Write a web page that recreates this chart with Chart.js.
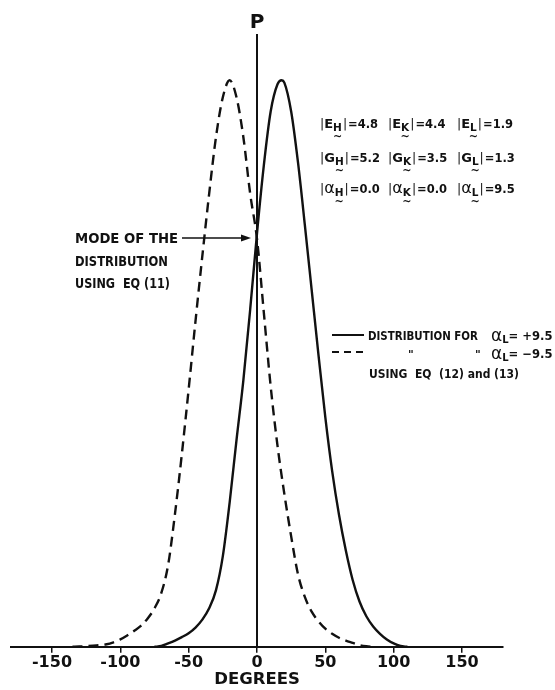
<!DOCTYPE html>
<html lang="en">
  <head>
    <meta charset="UTF-8" />
    <title>Distribution P vs degrees</title>
    <script src="https://cdn.jsdelivr.net/npm/chart.js"></script>
    <style>
      html, body { margin: 0; padding: 0; background: #fff; }
      #wrap { width: 555px; height: 690px; position: relative; }
    </style>
  </head>
  <body>
    <div id="wrap"><canvas id="distChart"></canvas></div>

    <script>
// data (P scaled so the peak = 100)
var solidDeg = [-75, -70, -65, -60, -55, -50, -45, -40, -35, -30, -25, -20, -15, -10, -5, 0, 5, 10, 15, 18, 20, 25, 30, 35, 40, 45, 50, 55, 60, 65, 70, 75, 80, 85, 90, 95, 100, 105, 110];
var solidP   = [0, 0.15, 0.6, 1.1, 1.7, 2.4, 3.4, 4.8, 6.8, 10, 16, 25.5, 36.5, 47, 59.5, 73, 85, 94.5, 99.3, 100, 99.6, 94.5, 85.5, 74.5, 63, 51.5, 40.5, 31, 23.3, 17, 11.8, 8, 5.4, 3.6, 2.3, 1.3, 0.6, 0.15, 0];

var dashDeg = [-135, -130, -120, -110, -105, -100, -95, -90, -85, -80, -75, -70, -65, -60, -55, -50, -45, -40, -35, -30, -25, -20, -15, -10, -5, 0, 5, 10, 15, 20, 25, 30, 35, 40, 45, 50, 55, 60, 65, 70, 75, 80, 85];
var dashP   = [0, 0.05, 0.2, 0.45, 0.8, 1.3, 2.0, 2.8, 3.7, 5.0, 6.8, 9.5, 14.5, 23.5, 34, 45.5, 57.5, 69, 80, 90, 97, 100, 97, 90, 80, 72, 59, 46, 35.5, 27, 19.5, 12.8, 8.8, 6.2, 4.5, 3.2, 2.3, 1.6, 1.1, 0.7, 0.3, 0.1, 0];

var xTicks = [-150, -100, -50, 0, 50, 100, 150];

function pairs(xs, ys) {
  return xs.map(function (x, i) { return { x: x, y: ys[i] }; });
}

var FONT = "'DejaVu Sans', sans-serif";

// texts drawn on top of the chart
var labelPlugin = {
  id: 'labels',
  afterDraw: function (chart) {
    var ctx = chart.ctx;
    var xs = chart.scales.x;
    var x0 = xs.getPixelForValue(0);
    ctx.save();
    ctx.fillStyle = '#111';
    ctx.strokeStyle = '#111';
    ctx.textBaseline = 'alphabetic';

    function txt(s, x, y, size, w, maxW) {
      ctx.font = (w || 'bold') + ' ' + size + 'px ' + FONT;
      if (maxW) ctx.fillText(s, x, y, maxW); else ctx.fillText(s, x, y);
      return x + Math.min(ctx.measureText(s).width, maxW || 1e9);
    }

    // P above axis
    ctx.textAlign = 'center';
    txt('P', x0, 28, 20);
    ctx.textAlign = 'left';

    // |X_s| = v with a tilde under the subscript
    function param(x, y, sym, sub, val) {
      var cx = txt('|', x, y, 12.5, 'normal');
      cx = txt(sym, cx, y, sym === 'α' ? 16 : 13, sym === 'α' ? 'normal' : 'bold');
      var sx = cx;
      cx = txt(sub, cx, y + 3, 10.5);
      ctx.textAlign = 'center';
      txt('~', (sx + cx) / 2, y + 12, 11);
      ctx.textAlign = 'left';
      cx = txt('|', cx + 1, y, 12.5, 'normal');
      txt('=' + val, cx + 1, y, 13, 'bold', 30);
    }
    var rows = [
      [['E', 'H', '4.8'], ['E', 'K', '4.4'], ['E', 'L', '1.9']],
      [['G', 'H', '5.2'], ['G', 'K', '3.5'], ['G', 'L', '1.3']],
      [['α', 'H', '0.0'], ['α', 'K', '0.0'], ['α', 'L', '9.5']]
    ];
    var colX = [320, 388, 457], rowY = [128, 162, 193];
    rows.forEach(function (r, i) {
      r.forEach(function (c, j) { param(colX[j], rowY[i], c[0], c[1], c[2]); });
    });

    // legend
    ctx.lineWidth = 2;
    ctx.beginPath(); ctx.moveTo(332, 335); ctx.lineTo(364, 335); ctx.stroke();
    ctx.setLineDash([7, 5]);
    ctx.beginPath(); ctx.moveTo(332, 352); ctx.lineTo(364, 352); ctx.stroke();
    ctx.setLineDash([]);
    txt('DISTRIBUTION FOR', 368, 340, 12.5, 'bold', 110);
    var ax = txt('α', 491, 341, 17, 'normal');
    ax = txt('L', ax, 343, 10);
    txt('= +9.5', ax, 340, 12.5, 'bold', 44);
    txt('"', 408, 358, 11);
    txt('"', 475, 358, 11);
    ax = txt('α', 491, 359, 17, 'normal');
    ax = txt('L', ax, 361, 10);
    txt('= −9.5', ax, 358, 12.5, 'bold', 44);
    txt('USING  EQ  (12) and (13)', 369, 378, 12.5, 'bold', 150);

    // mode annotation + arrow
    txt('MODE OF THE', 75, 243, 13.5, 'bold', 103);
    txt('DISTRIBUTION', 75, 266, 13.5, 'bold', 93);
    txt('USING  EQ (11)', 75, 288, 13.5, 'bold', 95);
    var ay = 238, tip = x0 - 6;
    ctx.lineWidth = 1.5;
    ctx.beginPath(); ctx.moveTo(182, ay); ctx.lineTo(tip - 8, ay); ctx.stroke();
    ctx.beginPath(); ctx.moveTo(tip, ay); ctx.lineTo(tip - 10, ay - 3.5); ctx.lineTo(tip - 10, ay + 3.5); ctx.closePath(); ctx.fill();

    ctx.restore();
  }
};

new Chart(document.getElementById('distChart'), {
  type: 'line',
  data: {
    datasets: [
      {
        label: 'alpha_L = +9.5',
        data: pairs(solidDeg, solidP),
        borderColor: '#111',
        borderWidth: 2.4,
        pointRadius: 0,
        cubicInterpolationMode: 'monotone',
        fill: false
      },
      {
        label: 'alpha_L = -9.5',
        data: pairs(dashDeg, dashP),
        borderColor: '#111',
        borderWidth: 2.4,
        borderDash: [10, 6],
        pointRadius: 0,
        cubicInterpolationMode: 'monotone',
        fill: false
      }
    ]
  },
  options: {
    responsive: true,
    maintainAspectRatio: false,
    animation: false,
    layout: { padding: { left: 11, right: 52, top: 35, bottom: 4 } },
    plugins: { legend: { display: false }, tooltip: { enabled: false } },
    scales: {
      x: {
        type: 'linear',
        min: -180,
        max: 180,
        afterBuildTicks: function (scale) {
          scale.ticks = xTicks.map(function (v) { return { value: v }; });
        },
        border: { display: true, color: '#111', width: 2 },
        grid: { display: true, drawOnChartArea: false, tickLength: 6, color: '#111', lineWidth: 1.5 },
        ticks: {
          color: '#111',
          padding: 2,
          maxRotation: 0,
          font: { family: FONT, size: 16, weight: 'bold', lineHeight: 1 }
        },
        title: {
          display: true,
          text: 'DEGREES',
          color: '#111',
          padding: 0,
          font: { family: FONT, size: 16.5, weight: 'bold', lineHeight: 0.8 }
        }
      },
      y: {
        type: 'linear',
        min: 0,
        max: 108,
        position: { x: 0 },
        border: { display: true, color: '#111', width: 2 },
        grid: { display: false },
        ticks: { display: false }
      }
    }
  },
  plugins: [labelPlugin]
});
    </script>
  </body>
</html>
